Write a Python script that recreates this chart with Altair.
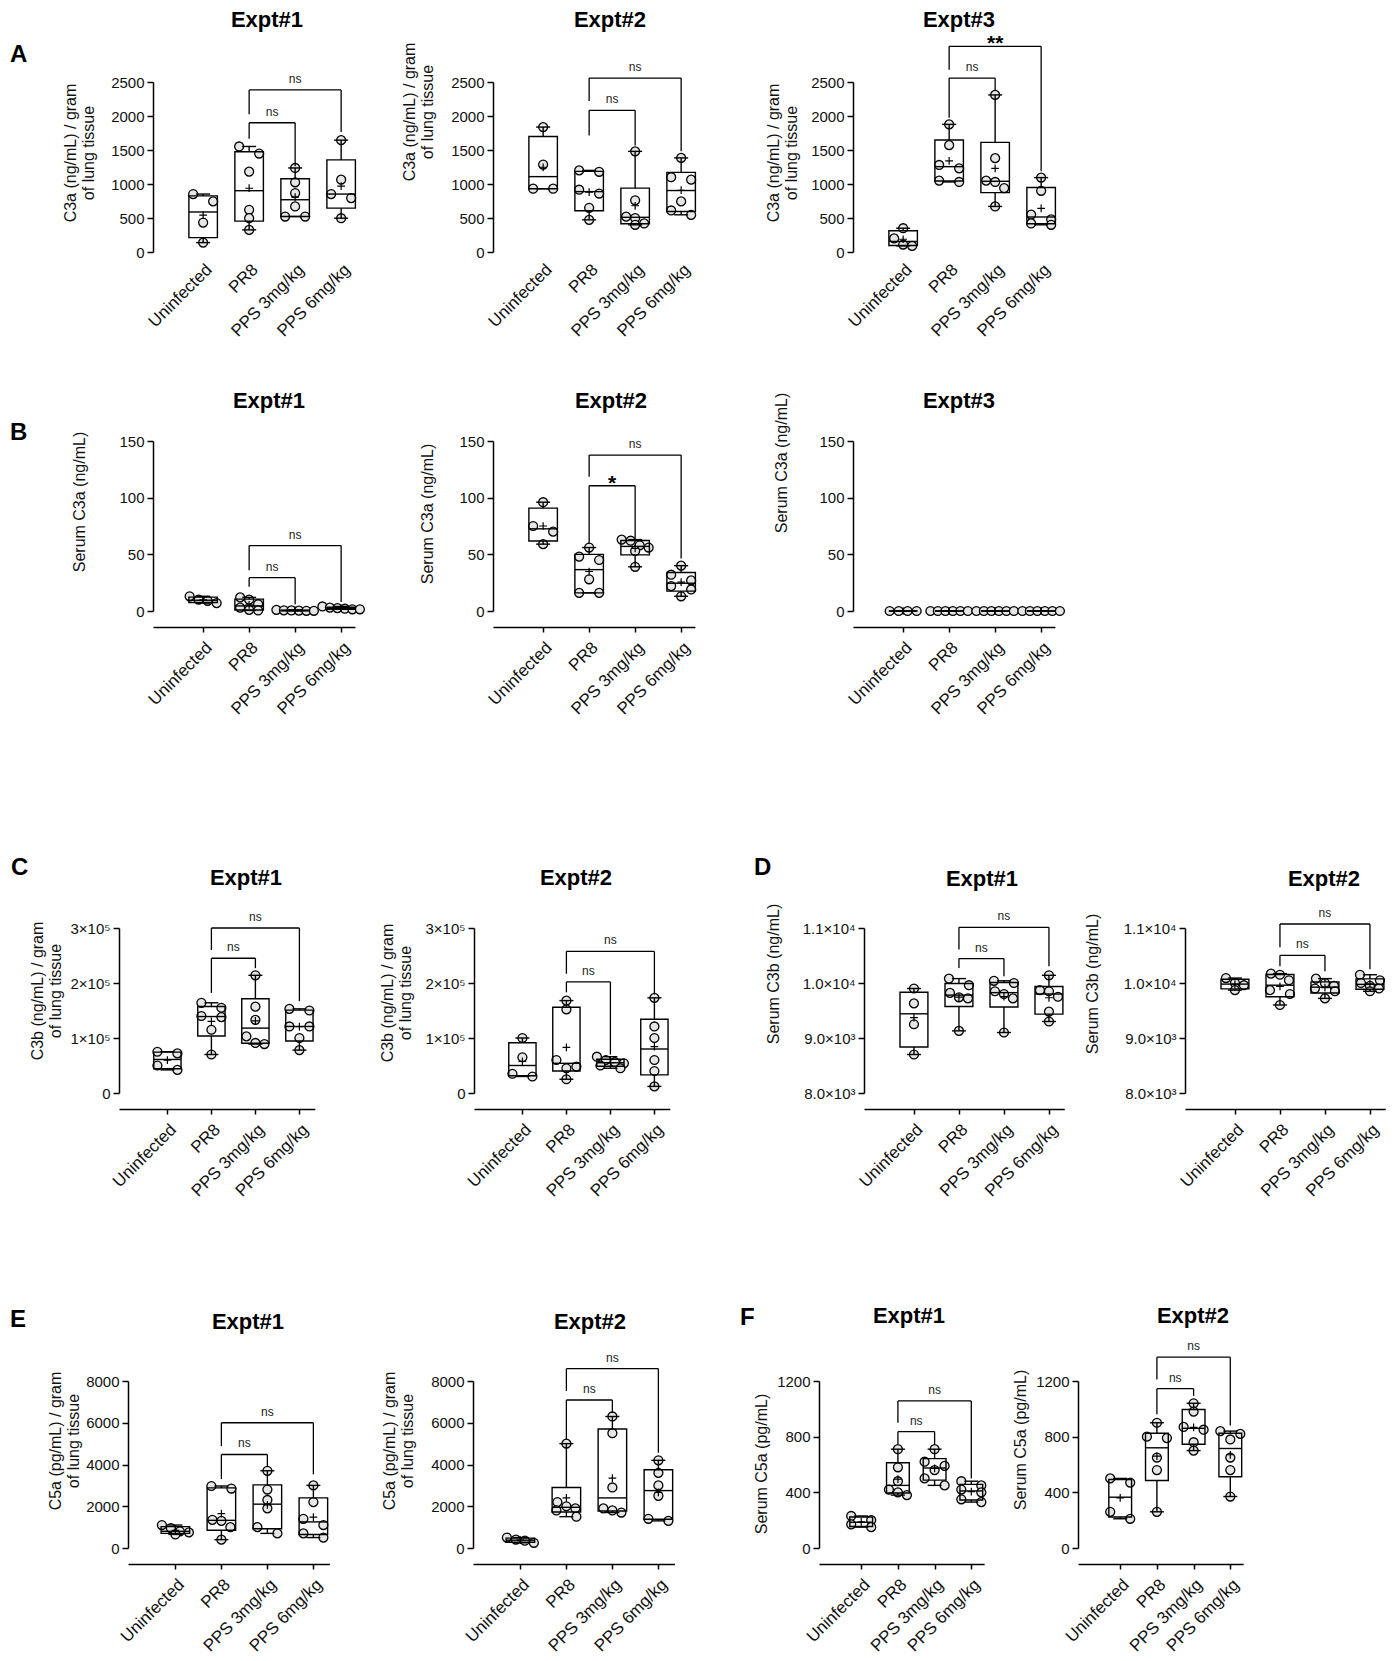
import altair as alt
import numpy as np
import pandas as pd

FONT = "Liberation Sans"
GROUPS = ["Uninfected", "PR8", "PPS 3mg/kg", "PPS 6mg/kg"]

# ---------------- values (per group) ----------------
A1_VALUES = [[852, 744, 433, 138], [1552, 1448, 1182, 621, 498, 325],
             [1236, 1025, 867, 670, 522, 522], [1645, 1064, 852, 793, 497]]
A2_VALUES = [[1837, 1286, 931, 931], [1200, 1180, 916, 860, 650, 473],
             [1480, 760, 520, 500, 420, 400], [1384, 1100, 1064, 744, 611, 547]]
A3_VALUES = [[350, 200, 110, 90], [1877, 1571, 1280, 1230, 1050, 1030],
             [2310, 1380, 1050, 1030, 940, 670], [1094, 900, 550, 480, 420, 400]]
B1_VALUES = [[13, 10, 9, 7], [12, 10, 6, 3, 1, 0.5],
             [1, 0.6, 0.5, 0.3, 0.2, 0.2], [4, 3, 2.5, 2, 1.5, 1.5]]
B2_VALUES = [[96, 75, 70, 59], [56, 48, 45, 28, 16, 16],
             [63, 62, 58, 56, 53, 39], [40, 32, 27, 22, 19, 13]]
B3_VALUES = [[0, 0, 0, 0], [0, 0, 0, 0, 0, 0], [0, 0, 0, 0, 0, 0], [0, 0, 0, 0, 0, 0]]
C1_VALUES = [[75000, 72000, 50000, 42000], [164000, 155000, 140000, 138000, 115000, 70000],
             [214000, 157000, 133000, 103000, 91000, 89000], [153000, 150000, 121000, 121000, 100000, 78000]]
C2_VALUES = [[100000, 65000, 35000, 30000], [168000, 152000, 60000, 48000, 45000, 25000],
             [66000, 60000, 56000, 54000, 50000, 45000], [173000, 121000, 100000, 60000, 40000, 12000]]
D1_VALUES = [[9900, 9630, 9250, 8700], [10080, 9960, 9820, 9740, 9720, 9130],
             [10040, 10000, 9850, 9800, 9720, 9100], [10140, 9870, 9850, 9750, 9480, 9300]]
D2_VALUES = [[10090, 10000, 9960, 9870], [10170, 10150, 10050, 9870, 9800, 9600],
             [10080, 10000, 9950, 9900, 9850, 9720], [10150, 10050, 10000, 9950, 9900, 9850]]
E1_VALUES = [[1100, 950, 800, 750, 650], [2970, 2850, 1350, 1300, 1000, 400],
             [3700, 2800, 2300, 1900, 1000, 700], [3000, 2200, 1400, 1100, 700, 500]]
E2_VALUES = [[500, 400, 350, 250], [5000, 2200, 2000, 1900, 1800, 1500],
             [6300, 5500, 2900, 1900, 1800, 1700], [4200, 3600, 3000, 2500, 1400, 1300]]
F1_VALUES = [[230, 200, 170, 150], [710, 580, 480, 420, 400, 380],
             [710, 620, 590, 560, 500, 450], [480, 450, 420, 400, 350, 330]]
F2_VALUES = [[500, 470, 260, 210], [900, 800, 790, 650, 560, 260],
             [1040, 980, 870, 850, 760, 700], [840, 820, 780, 650, 560, 370]]

# brackets: (group a, group b, bar height, left end, right end, label)
A1_BRACKETS = [(1, 2, 1901, 1665, 1261, "ns"), (1, 3, 2384, 2025, 1764, "ns")]
A2_BRACKETS = [(1, 2, 2084, 1714, 1567, "ns"), (1, 3, 2557, 2222, 1483, "ns")]
A3_BRACKETS = [(1, 2, 2557, 1975, 2379, "ns"), (1, 3, 3025, 2680, 1187, "**")]
B1_BRACKETS = [(1, 2, 29.4, 21.5, 6, "ns"), (1, 3, 57.7, 36, 8, "ns")]
B2_BRACKETS = [(1, 2, 110.5, 59.5, 63.4, "*"), (1, 3, 137.6, 118.5, 46.3, "ns")]
B3_BRACKETS = []
C1_BRACKETS = [(1, 2, 245000, 182000, 227000, "ns"), (1, 3, 300000, 260000, 167000, "ns")]
C2_BRACKETS = [(1, 2, 202000, 183000, 70000, "ns"), (1, 3, 257500, 217000, 179000, "ns")]
D1_BRACKETS = [(1, 2, 10444, 10273, 10122, "ns"), (1, 3, 11012, 10607, 10304, "ns")]
D2_BRACKETS = [(1, 2, 10504, 10304, 10213, "ns"), (1, 3, 11073, 10649, 10250, "ns")]
E1_BRACKETS = [(1, 2, 4480, 3300, 3900, "ns"), (1, 3, 6000, 4880, 3530, "ns")]
E2_BRACKETS = [(1, 2, 7090, 5200, 6480, "ns"), (1, 3, 8590, 7520, 4560, "ns")]
F1_BRACKETS = [(1, 2, 836, 747, 747, "ns"), (1, 3, 1057, 900, 500, "ns")]
F2_BRACKETS = [(1, 2, 1145, 961, 1093, "ns"), (1, 3, 1371, 1211, 880, "ns")]

# tick values
TICKS_A = [0, 500, 1000, 1500, 2000, 2500]
TICKS_B = [0, 50, 100, 150]
TICKS_C = [0, 100000, 200000, 300000]
TICKS_D = [8000, 9000, 10000, 11000]
TICKS_E = [0, 2000, 4000, 6000, 8000]
TICKS_F = [0, 400, 800, 1200]

XEXPR = "['Uninfected','PR8','PPS 3mg/kg','PPS 6mg/kg'][datum.value]"
CEXPR = "datum.value == 0 ? '0' : format(datum.value / 100000, 'd') + '×10⁵'"
DEXPR = ("datum.value < 10000 ? format(datum.value / 1000, '.1f') + '×10³' : "
         "format(datum.value / 10000, '.1f') + '×10⁴'")

ONE = pd.DataFrame({"k": [0]})


def cluster_offsets(vals, ppu):
    order = sorted(range(len(vals)), key=lambda i: -vals[i])
    offs = [0.0] * len(vals)
    clusters, cur = [], [order[0]]
    for i in order[1:]:
        if (vals[cur[0]] - vals[i]) * ppu < 8.0:
            cur.append(i)
        else:
            clusters.append(cur)
            cur = [i]
    clusters.append(cur)
    for cl in clusters:
        k = len(cl)
        step = 20.0 if k == 2 else (9.0 if k <= 4 else 7.5)
        for j, i in enumerate(cl):
            offs[i] = (j - (k - 1) / 2) * step
    return offs


def summary(vals):
    a = np.asarray(vals, float)
    q1, med, q3 = np.percentile(a, [25, 50, 75], method="weibull")
    return dict(mn=float(a.min()), q1=float(q1), med=float(med), q3=float(q3),
                mx=float(a.max()), mean=float(a.mean()))


def vtext(x, y, text, **kw):
    return alt.Chart(ONE).mark_text(font=FONT, **kw).encode(
        x=alt.value(x), y=alt.value(y), text=alt.value(text))


def panel(values, brackets, sp):
    u, lg, rg, H = sp["u"], sp["lg"], sp["rg"], sp["H"]
    W = u * (3 + lg + rg)
    y0, y1 = sp["ydom"]
    ppu = H / (y1 - y0)
    HB = 0.31
    CAP = 7.0 / u
    pts, summ, whisk, caps = [], [], [], []
    for g, vals in enumerate(values):
        offs = cluster_offsets(vals, ppu)
        for v, o in zip(vals, offs):
            pts.append({"xp": g + o / u, "v": v})
        s = summary(vals)
        summ.append({"g": g, "bx1": g - HB, "bx2": g + HB, **s})
        whisk += [{"g": g, "ya": s["mn"], "yb": s["q1"]}, {"g": g, "ya": s["q3"], "yb": s["mx"]}]
        caps += [{"c1": g - CAP, "c2": g + CAP, "cy": s["mn"]},
                 {"c1": g - CAP, "c2": g + CAP, "cy": s["mx"]}]
    pts, summ = pd.DataFrame(pts), pd.DataFrame(summ)
    whisk, caps = pd.DataFrame(whisk), pd.DataFrame(caps)

    xs = alt.Scale(domain=[-lg, 3 + rg], nice=False, zero=False)
    ys = alt.Scale(domain=[y0, y1], nice=False, zero=False)
    if sp.get("xline", True):
        xaxis = alt.Axis(values=[0, 1, 2, 3], labelExpr=XEXPR, labelAngle=-45, title=None,
                         grid=False, offset=sp["xoff"], tickSize=5, labelFontSize=17,
                         labelPadding=7, labelOverlap=False, labelAlign="right",
                         labelBaseline="top")
    else:
        xaxis = alt.Axis(values=[0, 1, 2, 3], labelExpr=XEXPR, labelAngle=-45, title=None,
                         grid=False, domain=False, ticks=False, tickSize=0, labelFontSize=17,
                         labelPadding=9, labelOverlap=False, labelAlign="right",
                         labelBaseline="top")
    ykw = dict(values=sp["yticks"], title=None, grid=False, tickSize=6, labelPadding=3,
               labelFontSize=15)
    if sp.get("yexpr"):
        ykw["labelExpr"] = sp["yexpr"]
    else:
        ykw["format"] = "d"
    yaxis = alt.Axis(**ykw)

    def X(f):
        return alt.X(f, scale=xs, axis=xaxis)

    def Y(f):
        return alt.Y(f, scale=ys, axis=yaxis)

    L, R, T, B = sp["L"], sp["R"], sp["T"], sp["Bot"]
    frame = alt.Chart(ONE).mark_rect(opacity=0).encode(
        x=alt.value(-L), x2=alt.value(W + R), y=alt.value(-T), y2=alt.value(H + B))

    points = alt.Chart(pts).mark_point(shape="circle", filled=True, size=80, fill="#e6e6e6",
                                       stroke="black", strokeWidth=1.3, opacity=1).encode(
        x=X("xp:Q"), y=Y("v:Q"))
    box = alt.Chart(summ).mark_rect(fillOpacity=0, stroke="black", strokeWidth=1.4).encode(
        x=X("bx1:Q"), x2="bx2:Q", y=Y("q1:Q"), y2="q3:Q")
    median = alt.Chart(summ).mark_rule(color="black", strokeWidth=1.4).encode(
        x=X("bx1:Q"), x2="bx2:Q", y=Y("med:Q"))
    whisker = alt.Chart(whisk).mark_rule(color="black", strokeWidth=1.4).encode(
        x=X("g:Q"), y=Y("ya:Q"), y2="yb:Q")
    cap = alt.Chart(caps).mark_rule(color="black", strokeWidth=1.4).encode(
        x=X("c1:Q"), x2="c2:Q", y=Y("cy:Q"))
    mean = alt.Chart(summ).mark_point(shape="M-1,0L1,0M0,-1L0,1", size=60, filled=False,
                                      stroke="black", strokeWidth=1.2, opacity=1).encode(
        x=X("g:Q"), y=Y("mean:Q"))

    layers = [frame, points, box, median, whisker, cap, mean]

    if brackets:
        segs, labs = [], []
        for a, b, yh, ya, yb, lab in brackets:
            segs += [{"x": a, "x2": b, "y": yh, "y2": yh},
                     {"x": a, "x2": a, "y": ya, "y2": yh},
                     {"x": b, "x2": b, "y": yb, "y2": yh}]
            labs.append({"xm": (a + b) / 2, "yh": yh, "lab": lab, "star": lab.startswith("*")})
        segs, labs = pd.DataFrame(segs), pd.DataFrame(labs)
        layers.append(alt.Chart(segs).mark_rule(color="black", strokeWidth=1.3).encode(
            x=X("x:Q"), x2="x2:Q", y=Y("y:Q"), y2="y2:Q"))
        ns = labs[~labs["star"]]
        st = labs[labs["star"]]
        if len(ns):
            layers.append(alt.Chart(ns).mark_text(font=FONT, fontSize=12, baseline="alphabetic",
                                                  dy=-7, color="#222").encode(
                x=X("xm:Q"), y=Y("yh:Q"), text="lab:N"))
        if len(st):
            layers.append(alt.Chart(st).mark_text(font=FONT, fontSize=21, fontWeight="bold",
                                                  baseline="alphabetic", dy=4, color="black").encode(
                x=X("xm:Q"), y=Y("yh:Q"), text="lab:N"))

    tx, ty = sp["tpos"]
    layers.append(vtext(tx, ty, sp["title"], fontSize=22, fontWeight="bold",
                        align="center", baseline="middle", color="black"))
    yx, yy = sp["ypos"]
    layers.append(vtext(yx, yy, sp["ytitle"], fontSize=16, angle=270, align="center",
                        baseline="middle", lineBreak="\n", lineHeight=18, color="#111"))
    if sp.get("letter"):
        lx, ly = sp["lpos"]
        layers.append(vtext(lx, ly, sp["letter"], fontSize=24, fontWeight="bold",
                            align="left", baseline="middle", color="black"))
    return alt.layer(*layers).properties(width=W, height=H)


def spacer():
    return alt.Chart(ONE).mark_rect(opacity=0).encode(
        x=alt.value(0), x2=alt.value(1), y=alt.value(0), y2=alt.value(1)
    ).properties(width=1, height=1)


YT_LUNG_C3A = "C3a (ng/mL) / gram\nof lung tissue"
YT_LUNG_C3B = "C3b (ng/mL) / gram\nof lung tissue"
YT_LUNG_C5A = "C5a (pg/mL) / gram\nof lung tissue"

rowA_common = dict(u=46, lg=1.09, rg=0.3, H=170, ydom=(0, 2500), yticks=TICKS_A, xoff=0,
                   xline=False, T=74, Bot=93, ytitle=YT_LUNG_C3A)
A1 = panel(A1_VALUES, A1_BRACKETS, dict(rowA_common, L=144, R=30, title="Expt#1",
                                        tpos=(114, -62.5), ypos=(-82, 71), letter="A",
                                        lpos=(-143, -27)))
A2 = panel(A2_VALUES, A2_BRACKETS, dict(rowA_common, L=108, R=45, title="Expt#2",
                                        tpos=(117, -62.5), ypos=(-83, 30)))
A3 = panel(A3_VALUES, A3_BRACKETS, dict(rowA_common, L=113, R=330, title="Expt#3",
                                        tpos=(106, -62.5), ypos=(-79, 71)))

rowB_common = dict(u=46, lg=1.09, rg=0.3, H=170, ydom=(0, 150), yticks=TICKS_B, xoff=16,
                   T=96, Bot=149, ytitle="Serum C3a (ng/mL)")
B1 = panel(B1_VALUES, B1_BRACKETS, dict(rowB_common, L=144, R=30, title="Expt#1",
                                        tpos=(116, -40), ypos=(-73, 61), letter="B",
                                        lpos=(-143, -8)))
B2 = panel(B2_VALUES, B2_BRACKETS, dict(rowB_common, L=108, R=45, title="Expt#2",
                                        tpos=(118, -40), ypos=(-65, 73)))
B3 = panel(B3_VALUES, B3_BRACKETS, dict(rowB_common, L=113, R=330, title="Expt#3",
                                        tpos=(106, -40), ypos=(-71, 22)))

rowC_common = dict(H=165, xoff=16, T=168, Bot=107)
C_common = dict(rowC_common, u=44, lg=1.1, rg=0.35, ydom=(0, 300000), yticks=TICKS_C,
                yexpr=CEXPR, ytitle=YT_LUNG_C3B)
D_common = dict(rowC_common, u=45, lg=1.11, rg=0.34, ydom=(8000, 11000), yticks=TICKS_D,
                yexpr=DEXPR, ytitle="Serum C3b (ng/mL)")
C1 = panel(C1_VALUES, C1_BRACKETS, dict(C_common, L=109.3, R=35.9, title="Expt#1",
                                        tpos=(127, -50), ypos=(-81, 63), letter="C",
                                        lpos=(-108, -60)))
C2 = panel(C2_VALUES, C2_BRACKETS, dict(C_common, L=122.7, R=51.5, title="Expt#2",
                                        tpos=(102, -50), ypos=(-86, 65)))
D1 = panel(D1_VALUES, D1_BRACKETS, dict(D_common, L=141.7, R=10, title="Expt#1",
                                        tpos=(118, -49), ypos=(-90, 46), letter="D",
                                        lpos=(-110, -60)))
D2 = panel(D2_VALUES, D2_BRACKETS, dict(D_common, L=109.7, R=3, title="Expt#2",
                                        tpos=(139, -49), ypos=(-92, 56)))

rowE_common = dict(H=167, xoff=16, T=181, Bot=97)
E_common = dict(rowE_common, u=46, lg=1.03, rg=0.35, ydom=(0, 8000), yticks=TICKS_E,
                ytitle=YT_LUNG_C5A)
F_common = dict(rowE_common, u=36.7, lg=1.15, rg=0.35, ydom=(0, 1200), yticks=TICKS_F,
                ytitle="Serum C5a (pg/mL)")
E1 = panel(E1_VALUES, E1_BRACKETS, dict(E_common, L=118.7, R=20.8, title="Expt#1",
                                        tpos=(120, -59), ypos=(-72, 60), letter="E",
                                        lpos=(-118, -61)))
E2 = panel(E2_VALUES, E2_BRACKETS, dict(E_common, L=121.7, R=46.8, title="Expt#2",
                                        tpos=(117, -59), ypos=(-83, 60)))
F1 = panel(F1_VALUES, F1_BRACKETS, dict(F_common, L=96.7, R=13.1, title="Expt#1",
                                        tpos=(90, -65), ypos=(-57, 83), letter="F",
                                        lpos=(-79, -63)))
F2 = panel(F2_VALUES, F2_BRACKETS, dict(F_common, L=80, R=144.8, title="Expt#2",
                                        tpos=(115, -65), ypos=(-57, 59)))

rowA = alt.hconcat(spacer(), A1, A2, A3, spacing=0)
rowB = alt.hconcat(spacer(), B1, B2, B3, spacing=0)
rowC = alt.hconcat(spacer(), C1, C2, D1, D2, spacing=0)
rowE = alt.hconcat(spacer(), E1, E2, F1, F2, spacing=0)

chart = alt.vconcat(rowA, rowB, rowC, rowE, spacing=0).properties(
    padding=0, background="white"
).configure_view(strokeWidth=0, strokeOpacity=0).configure_axis(
    domainColor="black", tickColor="black", labelColor="#111", labelFont=FONT,
    domainWidth=1.5, tickWidth=1.5, grid=False
)

chart.save("out.html", embed_options={"renderer": "svg", "actions": False})
